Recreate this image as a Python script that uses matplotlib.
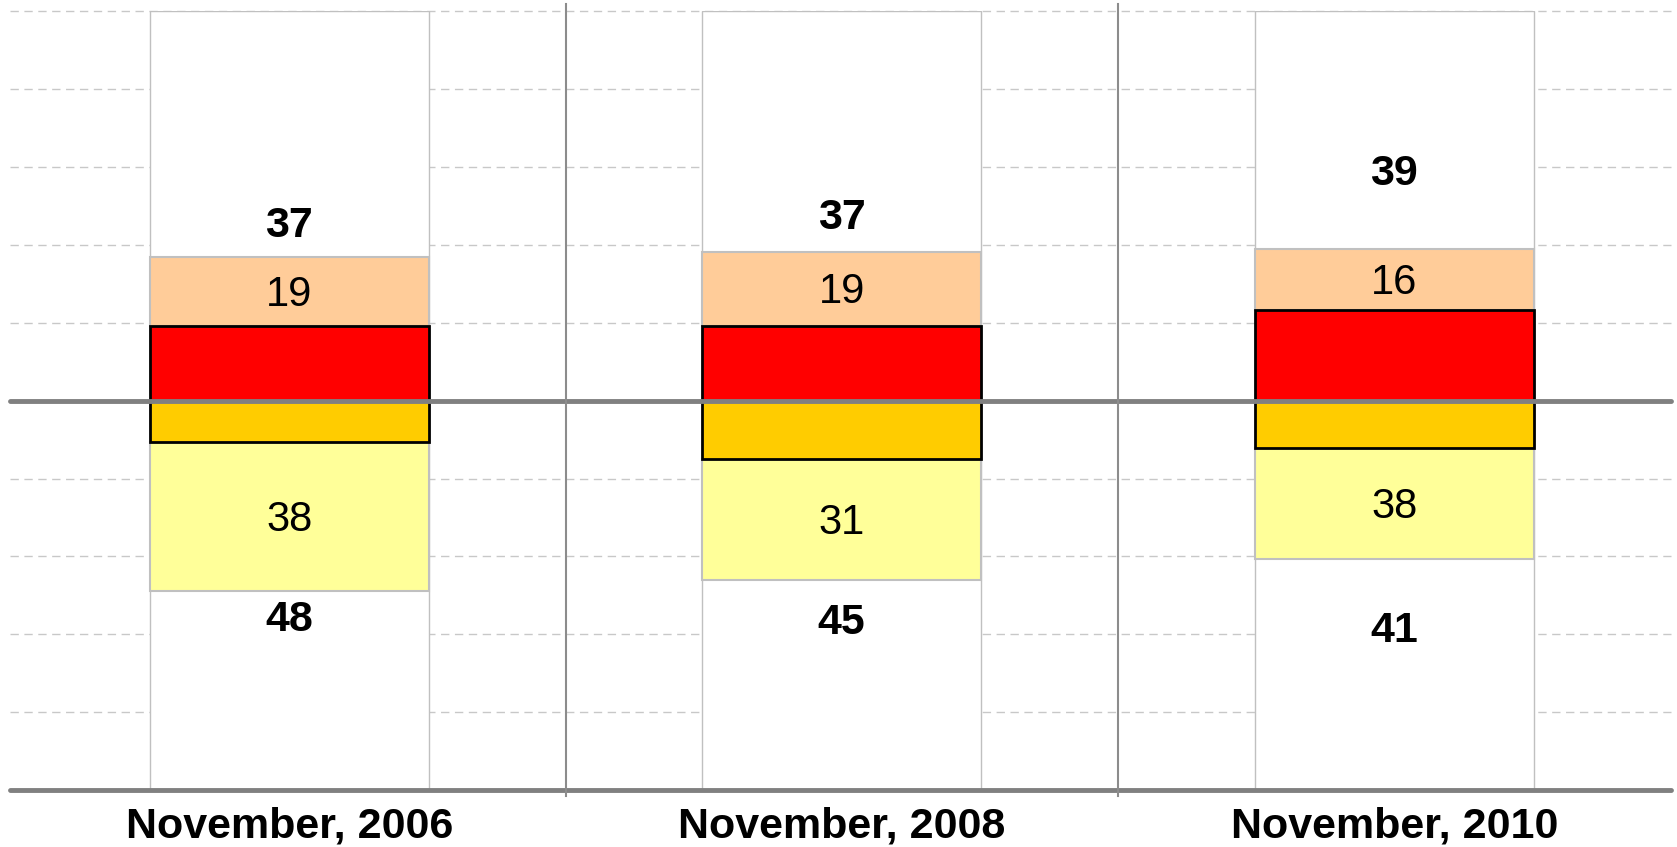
import matplotlib
matplotlib.use("Agg")
import numpy as np
from matplotlib import pyplot as plt

# data
categories = ["November, 2006", "November, 2008", "November, 2010"]
red_vals = [19.1, 19.3, 23.2]       # strong, above zero
peach_vals = [17.7, 18.9, 15.7]     # weak, above zero
orange_vals = [10.7, 15.0, 12.2]    # strong, below zero
yellow_vals = [38.1, 31.0, 28.4]    # weak, below zero

peach_labels = ["19", "19", "16"]
yellow_labels = ["38", "31", "38"]
top_totals = ["37", "37", "39"]
bottom_totals = ["48", "45", "41"]

# where the total labels sit (data units)
top_label_y = [44.8, 47.0, 58.2]
bottom_label_y = [-56.4, -57.2, -59.1]

plt.rcParams['font.family'] = ['Liberation Sans', 'DejaVu Sans']

W, H = 1677, 847
fig = plt.figure(figsize=(W / 100, H / 100), dpi=100)
ax = fig.add_axes([13 / W, (H - 790) / H, (1670.5 - 13) / W, (790 - 11.3) / H])

x = np.arange(len(categories))
width = 0.505
nudge = -0.9  # text centring correction

ax.set_xlim(-0.5, 2.5)
ax.set_ylim(-100, 100)

# dashed grid behind everything
for gy in np.arange(-80, 101, 20):
    if gy == 0:
        continue
    ax.plot([-0.506, 2.5], [gy, gy], color='#c8c8c8', lw=1.0, ls=(0, (6, 4)),
            zorder=0, clip_on=False)

# white column backgrounds
ax.bar(x, 200, width, bottom=-100, color='white', edgecolor='#c0c0c0', lw=1.0, zorder=1)

red = np.array(red_vals)
peach = np.array(peach_vals)
orange = np.array(orange_vals)
yellow = np.array(yellow_vals)

ax.bar(x, peach, width, bottom=red, color='#FFCC99', edgecolor='#c0c0c0', lw=1.5, zorder=2)
ax.bar(x, -yellow, width, bottom=-orange, color='#FFFF99', edgecolor='#c0c0c0', lw=1.5, zorder=2)
ax.bar(x, red, width, color='#FF0000', edgecolor='black', lw=2.0, zorder=3)
ax.bar(x, -orange, width, color='#FFCC00', edgecolor='black', lw=2.0, zorder=3)

# zero line and bottom axis line
ax.plot([-0.506, 2.5], [0, 0], color='#808080', lw=3.5, solid_capstyle='round',
        zorder=4, clip_on=False)
ax.plot([-0.506, 2.5], [-100, -100], color='#808080', lw=3.5, solid_capstyle='round',
        zorder=4, clip_on=False)

# separators between periods
for sx in [0.5, 1.5]:
    ax.plot([sx, sx], [-101.5, 102], color='#8c8c8c', lw=1.5, zorder=4, clip_on=False)

for i in range(len(categories)):
    ax.text(x[i], red[i] + peach[i] / 2 + nudge, peach_labels[i], ha='center', va='center',
            fontsize=30, zorder=5)
    ax.text(x[i], -orange[i] - yellow[i] / 2 + nudge, yellow_labels[i], ha='center',
            va='center', fontsize=30, zorder=5)
    ax.text(x[i], top_label_y[i], top_totals[i], ha='center', va='center',
            fontsize=31, fontweight='bold', zorder=5)
    ax.text(x[i], bottom_label_y[i], bottom_totals[i], ha='center', va='center',
            fontsize=31, fontweight='bold', zorder=5)

ax.set_xticks(x)
ax.set_xticklabels(categories, fontsize=31, fontweight='bold')
ax.tick_params(axis='x', length=0, pad=12)
ax.set_yticks([])
for s in ax.spines.values():
    s.set_visible(False)

fig.savefig("out.png", dpi=100)
